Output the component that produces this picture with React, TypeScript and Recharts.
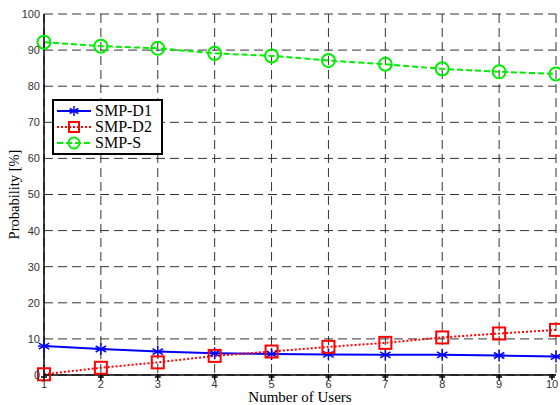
import React from 'react';
import { LineChart, Line, XAxis, YAxis, CartesianGrid, Legend, Label } from 'recharts';

const users = [1, 2, 3, 4, 5, 6, 7, 8, 9, 10];
const smpD1 = [8.0, 7.2, 6.5, 6.0, 5.8, 5.7, 5.6, 5.6, 5.4, 5.1];
const smpD2 = [0.2, 2.0, 3.5, 5.3, 6.5, 7.8, 8.9, 10.4, 11.5, 12.5];
const smpS = [92.2, 91.1, 90.5, 89.1, 88.4, 87.1, 86.1, 84.8, 84.0, 83.4];
const yTicks = [0, 10, 20, 30, 40, 50, 60, 70, 80, 90, 100];

const data = users.map((u, i) => ({ users: u, d1: smpD1[i], d2: smpD2[i], s: smpS[i] }));

const BLUE = '#0000ff';
const RED = '#ff0000';
const GREEN = '#00ee00';
const SERIF = '"Liberation Serif", "Times New Roman", serif';
const SANS = '"Liberation Sans", Arial, sans-serif';

// matlab-ish markers
const Star = ({ cx, cy, color = BLUE, r = 6 }: any) => {
  if (cx == null || cy == null) return null;
  const d = r * 0.87;
  return (
    <g stroke={color} strokeWidth={1.5}>
      <line x1={cx} y1={cy - r} x2={cx} y2={cy + r} />
      <line x1={cx - d} y1={cy - r / 2} x2={cx + d} y2={cy + r / 2} />
      <line x1={cx - d} y1={cy + r / 2} x2={cx + d} y2={cy - r / 2} />
      <line x1={cx - r} y1={cy} x2={cx + r} y2={cy} />
    </g>
  );
};

const Square = ({ cx, cy, color = RED, s = 12 }: any) => {
  if (cx == null || cy == null) return null;
  return <rect x={cx - s / 2} y={cy - s / 2} width={s} height={s} fill="none" stroke={color} strokeWidth={2} />;
};

const Circle = ({ cx, cy, color = GREEN, r = 6.5 }: any) => {
  if (cx == null || cy == null) return null;
  return <circle cx={cx} cy={cy} r={r} fill="none" stroke={color} strokeWidth={2} />;
};

const XTick = ({ x, y, payload }: any) => (
  <g>
    <line x1={x} y1={y - 3} x2={x} y2={y + 3} stroke="#000" strokeWidth={1.5} />
    <line x1={x - 3} y1={y} x2={x + 3} y2={y} stroke="#000" strokeWidth={1.5} />
    <text x={x} y={y + 11} textAnchor="middle" fontSize={11} fontFamily={SANS} fill="#333">
      {payload.value}
    </text>
  </g>
);

const legendItems = [
  { name: 'SMP-D1', color: BLUE, dash: undefined, marker: 'star' },
  { name: 'SMP-D2', color: RED, dash: '2 2', marker: 'square' },
  { name: 'SMP-S', color: GREEN, dash: '6 3', marker: 'circle' },
];

const LegendBox = () => (
  <div
    style={{
      border: '2px solid #000',
      background: '#fff',
      width: 107,
      padding: '2px 0',
      fontFamily: SERIF,
      fontSize: 16,
      lineHeight: '16px',
    }}
  >
    {legendItems.map((it) => (
      <div key={it.name} style={{ display: 'flex', alignItems: 'center', height: 16 }}>
        <svg width={36} height={16} style={{ marginLeft: 2 }}>
          <line x1={1} y1={8} x2={35} y2={8} stroke={it.color} strokeWidth={2} strokeDasharray={it.dash} />
          {it.marker === 'star' && <Star cx={18} cy={8} r={5} />}
          {it.marker === 'square' && <Square cx={18} cy={8} s={10} />}
          {it.marker === 'circle' && <Circle cx={18} cy={8} r={5.5} />}
        </svg>
        <span style={{ marginLeft: 3 }}>{it.name}</span>
      </div>
    ))}
  </div>
);

export default function App() {
  return (
    <div style={{ position: 'absolute', left: 0, top: 0, width: 560, height: 405, background: '#fff' }}>
      <LineChart width={560} height={405} data={data} margin={{ top: 14, right: 4, left: 12, bottom: 0 }}>
        <CartesianGrid stroke="#333" strokeDasharray="9 5" strokeWidth={1} />
        <XAxis
          dataKey="users"
          type="number"
          domain={[1, 10]}
          ticks={users}
          height={30}
          tickSize={0}
          tickLine={false}
          tick={<XTick />}
          stroke="#000"
          strokeWidth={1.5}
        >
          <Label value="Number of Users" position="insideBottom" offset={3} fontFamily={SERIF} fontSize={15} fill="#000" />
        </XAxis>
        <YAxis
          domain={[0, 100]}
          ticks={yTicks}
          width={32}
          tickLine={false}
          tickSize={0}
          tickMargin={4}
          stroke="#000"
          strokeWidth={1.5}
          tick={{ fontSize: 11, fontFamily: SANS, fill: '#333' }}
        >
          <Label
            value="Probability [%]"
            angle={-90}
            position="insideLeft"
            offset={2}
            style={{ textAnchor: 'middle' }}
            fontFamily={SERIF}
            fontSize={14.5}
            fill="#000"
          />
        </YAxis>
        <Legend
          layout="horizontal"
          verticalAlign="middle"
          align="center"
          content={<LegendBox />}
          wrapperStyle={{ position: 'absolute', left: 52, top: 99, width: 'auto', height: 'auto' }}
        />
        <Line
          dataKey="d1"
          name="SMP-D1"
          stroke={BLUE}
          strokeWidth={2}
          dot={(p: any) => <Star key={p.index} cx={p.cx} cy={p.cy} />}
          isAnimationActive={false}
        />
        <Line
          dataKey="d2"
          name="SMP-D2"
          stroke={RED}
          strokeWidth={2}
          strokeDasharray="2 2"
          dot={(p: any) => <Square key={p.index} cx={p.cx} cy={p.cy} />}
          isAnimationActive={false}
        />
        <Line
          dataKey="s"
          name="SMP-S"
          stroke={GREEN}
          strokeWidth={2}
          strokeDasharray="6 3"
          dot={(p: any) => <Circle key={p.index} cx={p.cx} cy={p.cy} />}
          isAnimationActive={false}
        />
      </LineChart>
    </div>
  );
}
